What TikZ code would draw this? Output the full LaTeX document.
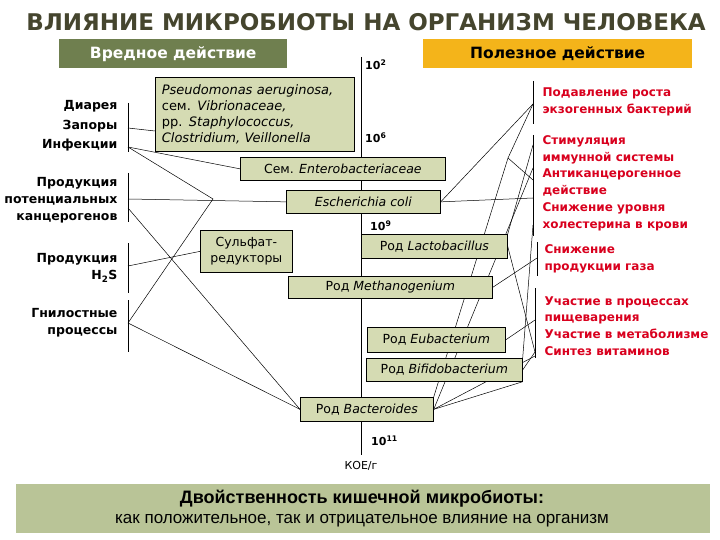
\documentclass[tikz,border=0pt]{standalone}
\usepackage{fontspec}
\setmainfont{DejaVu Sans}
\newfontfamily\arialfont{Liberation Sans}
\usetikzlibrary{calc,backgrounds}

\definecolor{titlecol}{HTML}{45452E}
\definecolor{harmcol}{HTML}{6F7F4F}
\definecolor{goodcol}{HTML}{F4B41A}
\definecolor{boxcol}{HTML}{D5DBB3}
\definecolor{bandcol}{HTML}{B9C497}
\definecolor{redcol}{HTML}{D9001E}

\begin{document}
\begin{tikzpicture}[x=1pt, y=-1pt,
    bact/.style={draw, line width=0.7pt, fill=boxcol, inner sep=0pt, anchor=north west,
      font=\fontsize{12.5}{15.7}\selectfont},
    badtxt/.style={font=\fontsize{12.5}{17}\selectfont\bfseries, align=right, anchor=east},
    goodtxt/.style={font=\fontsize{12}{16.8}\selectfont\bfseries, text=redcol, align=left, anchor=west},
    dose/.style={font=\fontsize{11}{13}\selectfont\bfseries, anchor=west, inner sep=0pt},
    link/.style={line width=0.5pt},
    brack/.style={line width=0.8pt}]
  \useasboundingbox (0,0) rectangle (720,540);

  % title and headers
  \node[font=\fontsize{23}{26}\selectfont\bfseries, text=titlecol] (title) at (366,22)
    {ВЛИЯНИЕ МИКРОБИОТЫ НА ОРГАНИЗМ ЧЕЛОВЕКА};
  \node[fill=harmcol, text=white, font=\fontsize{15.5}{18}\selectfont\bfseries,
    minimum width=228pt, minimum height=29pt, anchor=north west] (harm) at (59,39) {Вредное действие};
  \node[fill=goodcol, font=\fontsize{15.5}{18}\selectfont\bfseries,
    minimum width=269pt, minimum height=29pt, anchor=north west] (benefit) at (423,39) {Полезное действие};

  % bacteria
  \node[bact, minimum width=199pt, minimum height=74pt, align=left, text width=186pt,
    font=\fontsize{13}{15.7}\selectfont] (pseudo) at (155,77)
    {\textit{Pseudomonas aeruginosa,}\\ сем. \textit{Vibrionaceae,}\\ pp. \textit{Staphylococcus,}\\ \textit{Clostridium, Veillonella}};
  \node[bact, minimum width=205pt, minimum height=23pt] (entero) at (240,157) {Сем. \textit{Enterobacteriaceae}};
  \node[bact, minimum width=154pt, minimum height=23pt] (ecoli) at (286,190) {\textit{Escherichia coli}};
  \node[bact, minimum width=146pt, minimum height=24pt] (lacto) at (361,234) {Род \textit{Lactobacillus}};
  \node[bact, minimum width=92pt, minimum height=42pt, align=center] (sulf) at (200,230) {Сульфат-\\редукторы};
  \node[bact, minimum width=204pt, minimum height=22pt] (methano) at (288,276) {Род \textit{Methanogenium}};
  \node[bact, minimum width=138pt, minimum height=25pt] (eubact) at (367,327) {Род \textit{Eubacterium}};
  \node[bact, minimum width=156pt, minimum height=23pt] (bifido) at (366,358) {Род \textit{Bifidobacterium}};
  \node[bact, minimum width=133pt, minimum height=24pt] (bacter) at (300,397) {Род \textit{Bacteroides}};

  % concentrations
  \node[dose] (d2) at (365,65) {10\textsuperscript{2}};
  \node[dose] (d6) at (365,138) {10\textsuperscript{6}};
  \node[dose] (d9) at (370,226) {10\textsuperscript{9}};
  \node[dose] (d11) at (371,441) {10\textsuperscript{11}};
  \node[font=\fontsize{11}{13}\selectfont] (cfu) at (361,466) {КОЕ/г};

  % harmful effects
  \node[badtxt, font=\fontsize{12.5}{19.5}\selectfont\bfseries] (diarr) at (121,126) {Диарея\\Запоры\\Инфекции};
  \node[badtxt] (carc) at (121,200) {Продукция\\потенциальных\\канцерогенов};
  \node[badtxt] (hsulf) at (121,268) {Продукция\\H\textsubscript{2}S};
  \node[badtxt] (putr) at (121,323) {Гнилостные\\процессы};

  % useful effects
  \node[goodtxt] (supp) at (539,102) {Подавление роста\\экзогенных бактерий};
  \node[goodtxt] (stim) at (539,183) {Стимуляция\\иммунной системы\\Антиканцерогенное\\действие\\Снижение уровня\\холестерина в крови};
  \node[goodtxt] (gas) at (541,259) {Снижение\\продукции газа};
  \node[goodtxt] (dig) at (541,326) {Участие в процессах\\пищеварения\\Участие в метаболизме\\Синтез витаминов};

  % bottom band
  \node[fill=bandcol, minimum width=694pt, minimum height=49pt, anchor=north west] (band) at (16,484) {};
  \node[font=\arialfont\fontsize{18}{20}\selectfont\bfseries] (bandtop) at (362,499) {Двойственность кишечной микробиоты:};
  \node[font=\arialfont\fontsize{17}{20}\selectfont] (bandbot) at (362,521) {как положительное, так и отрицательное влияние на организм};

  \begin{scope}[on background layer]
    \fill[white] (0,0) rectangle (720,540);
    % brackets
    \coordinate (lb1) at (128,128); \coordinate (lb1i) at (128,147);
    \coordinate (lb2) at (128,199); \coordinate (lb2b) at (128,208);
    \coordinate (lb3) at (128,266); \coordinate (lb4) at (128,323);
    \coordinate (rb1) at (533,104); \coordinate (rb2) at (533,180);
    \coordinate (rb2a) at (533,145); \coordinate (rb2b) at (533,168);
    \coordinate (rb2c) at (533,198); \coordinate (rb2d) at (533,225);
    \coordinate (rb3) at (537,258); \coordinate (rb4) at (535,320);
    \coordinate (rb4b) at (535,352);
    \draw[brack] (128,103) -- (128,152);
    \draw[brack] (128,173) -- (128,222);
    \draw[brack] (128,243) -- (128,293);
    \draw[brack] (128,300) -- (128,352);
    \draw[brack] (533,81) -- (533,124);
    \draw[brack] (533,135) -- (533,236);
    \draw[brack] (537,242) -- (537,276);
    \draw[brack] (535,288) -- (535,358);
    % axis
    \draw[link, line width=0.8pt] (361,57) -- (361,455);
    % junctions
    \coordinate (kx) at (213,199);
    \coordinate (jx) at (508,158);
    % left links
    \draw[link] (lb1) -- (pseudo.west |- 0,131);
    \draw[link] (lb1i) -- (entero.west);
    \draw[link] (lb1i) -- (kx) -- (lb4);
    \draw[link] (lb2) -- (ecoli.west);
    \draw[link] (lb2b) -- (bacter.west);
    \draw[link] (lb3) -- (sulf.west);
    \draw[link] (lb4) -- (bacter.west);
    % right links
    \draw[link] (ecoli.east) -- (rb1);
    \draw[link] (ecoli.east) -- (rb2c);
    \draw[link] (jx) -- (rb1);
    \draw[link] (jx) -- (rb2);
    \draw[link] (jx) -- (bacter.north east);
    \draw[link] (lacto.north east) -- (rb2a);
    \draw[link] (lacto.east) -- (rb4b);
    \draw[link] (bifido.north east) -- (rb2d);
    \draw[link] (methano.east) -- (rb3);
    \draw[link] (bacter.east) -- (rb2b);
    \draw[link] (bacter.east) -- (535,356);
    \draw[link] (bacter.east) -- (bifido.south east);
    \draw[link] (eubact.east) -- (rb4);
    \draw[link] (bifido.east) -- (rb4b);
  \end{scope}
\end{tikzpicture}
\end{document}
